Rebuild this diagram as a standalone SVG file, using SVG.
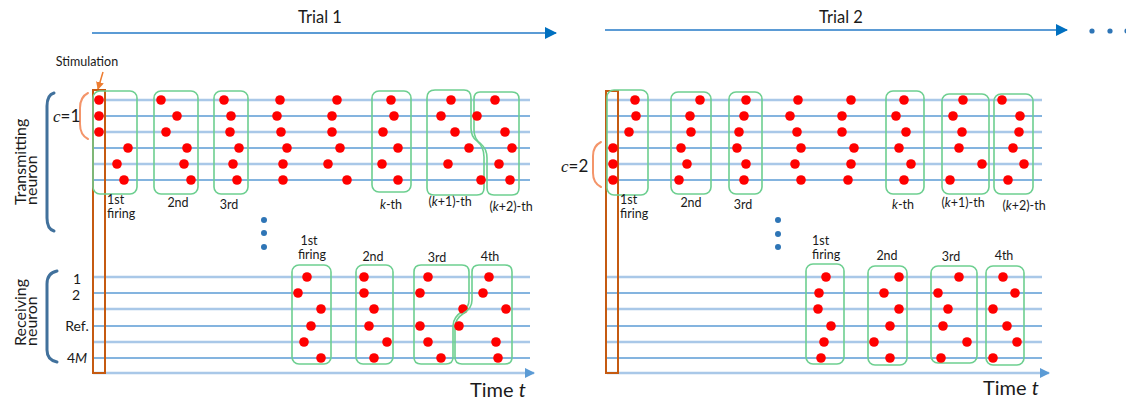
<svg xmlns="http://www.w3.org/2000/svg" width="1126" height="401" viewBox="0 0 1126 401">
  <defs>
    <style>
      text { font-family: Lato, "Liberation Sans", sans-serif; fill: #1a1a1a; }
      .lbl { font-size: 12.5px; }
      .mid { text-anchor: middle; }
      .it { font-style: italic; }
      .side { font-size: 16px; }
      .row { font-size: 14px; text-anchor: middle; }
      .trial { font-size: 16.5px; text-anchor: middle; }
      .time { font-size: 20px; }
      .lt { stroke: #a9c8e8; stroke-width: 2.4; fill: none; }
      .dk { stroke: #5b9bd5; stroke-width: 1.4; fill: none; }
      .box { fill: none; stroke: #6dcf90; stroke-width: 1.6; }
      .spk circle { fill: #ff0000; r: 4.8px; }
      .stim { fill: none; stroke: #c55a11; stroke-width: 2; }
      .br { fill: none; stroke: #41719c; stroke-width: 3; stroke-linecap: round; }
      .obr { fill: none; stroke: #f4956a; stroke-width: 2; stroke-linecap: round; }
      .ell { fill: #2e75b6; }
      .tl { stroke: #5b9bd5; stroke-width: 2; fill: none; }
    </style>
    <marker id="trialHead" markerWidth="12" markerHeight="12" refX="11" refY="6" orient="auto" markerUnits="userSpaceOnUse">
      <path d="M0,0 L12,6 L0,12 Z" fill="#0070c0"/>
    </marker>
    <marker id="axisHead" markerWidth="10" markerHeight="10" refX="9" refY="5" orient="auto" markerUnits="userSpaceOnUse">
      <path d="M0,0 L10,5 L0,10 Z" fill="#5b9bd5"/>
    </marker>
    <marker id="stimHead" markerWidth="8" markerHeight="8" refX="7" refY="4" orient="auto" markerUnits="userSpaceOnUse">
      <path d="M0,0 L8,4 L0,8 Z" fill="#ed7d31"/>
    </marker>
  </defs>

  <!-- trial arrows -->
  <g id="connectors">
    <line class="tl" x1="92" y1="33" x2="556" y2="33" marker-end="url(#trialHead)"/>
    <line class="tl" x1="605" y1="30" x2="1067" y2="30" marker-end="url(#trialHead)"/>
    <line x1="103" y1="72" x2="98" y2="89" stroke="#ed7d31" stroke-width="1.5" marker-end="url(#stimHead)"/>
  </g>
  <text class="trial" x="320" y="23">Trial 1</text>
  <text class="trial" x="841" y="23">Trial 2</text>
  <g id="more-trials" class="ell">
    <circle cx="1092" cy="31" r="2.6"/>
    <circle cx="1110" cy="31" r="2.6"/>
    <circle cx="1127" cy="31" r="2.6"/>
  </g>

  <!-- side labels -->
  <g id="side-labels">
    <text class="side" transform="translate(26,205) rotate(-90)">Transmitting</text>
    <text class="side" transform="translate(37,205) rotate(-90)">neuron</text>
    <text class="side" transform="translate(26,346) rotate(-90)">Receiving</text>
    <text class="side" transform="translate(37,346) rotate(-90)">neuron</text>
    <path class="br" d="M54,93 Q47,95 47,106 V218 Q47,229 54,231"/>
    <path class="br" d="M57,271 Q47,273 47,284 V350 Q47,360 57,362"/>
    <text class="row" x="77" y="284">1</text>
    <text class="row" x="76" y="300">2</text>
    <text class="row" x="77" y="331">Ref.</text>
    <text class="row" x="77" y="363">4<tspan class="it">M</tspan></text>
    <text x="87" y="66" class="lbl mid">Stimulation</text>
  </g>

  <!-- trial 1 -->
  <g id="trial1-lines">
    <line class="lt" x1="93" y1="100" x2="530" y2="100"/>
    <line class="dk" x1="93" y1="116" x2="530" y2="116"/>
    <line class="lt" x1="93" y1="132" x2="530" y2="132"/>
    <line class="dk" x1="93" y1="148" x2="530" y2="148"/>
    <line class="lt" x1="93" y1="164" x2="530" y2="164"/>
    <line class="dk" x1="93" y1="180" x2="530" y2="180"/>
    <line class="lt" x1="93" y1="277" x2="530" y2="277"/>
    <line class="dk" x1="93" y1="293" x2="530" y2="293"/>
    <line class="lt" x1="93" y1="309" x2="530" y2="309"/>
    <line class="dk" x1="93" y1="326" x2="530" y2="326"/>
    <line class="lt" x1="93" y1="342" x2="530" y2="342"/>
    <line class="dk" x1="93" y1="358" x2="530" y2="358"/>
    <line class="lt" x1="93" y1="373" x2="534" y2="373" marker-end="url(#axisHead)"/>
  </g>
  <rect id="trial1-stim" class="stim" x="93" y="90" width="12" height="283"/>
  <g id="trial1-c">
    <path class="obr" d="M88,93 Q80,97 80,108 V124 Q80,135 88,139"/>
    <text x="53" y="122" style="font-size:17px"><tspan class="it" font-family="'Liberation Serif', serif">c</tspan>=1</text>
  </g>

  <g id="t1-f1">
    <rect class="box" x="93" y="91" width="44" height="103" rx="7"/>
    <g class="spk"><circle cx="99" cy="100" r="4.8"/><circle cx="99" cy="116" r="4.8"/><circle cx="99" cy="132" r="4.8"/><circle cx="128" cy="148" r="4.8"/><circle cx="117" cy="164" r="4.8"/><circle cx="124" cy="180" r="4.8"/></g>
    <text class="lbl" x="107" y="204">1st</text>
    <text class="lbl" x="107" y="218">firing</text>
  </g>
  <g id="t1-f2">
    <rect class="box" x="154" y="91" width="44" height="103" rx="7"/>
    <g class="spk"><circle cx="161" cy="100" r="4.8"/><circle cx="177" cy="116" r="4.8"/><circle cx="166" cy="132" r="4.8"/><circle cx="187" cy="148" r="4.8"/><circle cx="184" cy="164" r="4.8"/><circle cx="191" cy="180" r="4.8"/></g>
    <text class="lbl mid" x="178" y="207">2nd</text>
  </g>
  <g id="t1-f3">
    <rect class="box" x="214" y="91" width="34" height="103" rx="7"/>
    <g class="spk"><circle cx="224" cy="100" r="4.8"/><circle cx="231" cy="116" r="4.8"/><circle cx="230" cy="132" r="4.8"/><circle cx="239" cy="148" r="4.8"/><circle cx="233" cy="164" r="4.8"/><circle cx="237" cy="180" r="4.8"/></g>
    <text class="lbl mid" x="229" y="209">3rd</text>
  </g>
  <g id="t1-f4" class="spk">
    <circle cx="280" cy="100" r="4.8"/><circle cx="277" cy="116" r="4.8"/><circle cx="281" cy="132" r="4.8"/><circle cx="287" cy="148" r="4.8"/><circle cx="283" cy="164" r="4.8"/><circle cx="283" cy="180" r="4.8"/>
  </g>
  <g id="t1-f5" class="spk">
    <circle cx="337" cy="100" r="4.8"/><circle cx="332" cy="116" r="4.8"/><circle cx="332" cy="132" r="4.8"/><circle cx="340" cy="148" r="4.8"/><circle cx="328" cy="164" r="4.8"/><circle cx="347" cy="180" r="4.8"/>
  </g>
  <g id="t1-fk">
    <rect class="box" x="372" y="91" width="39" height="101" rx="7"/>
    <g class="spk"><circle cx="391" cy="100" r="4.8"/><circle cx="394" cy="116" r="4.8"/><circle cx="383" cy="132" r="4.8"/><circle cx="398" cy="148" r="4.8"/><circle cx="382" cy="164" r="4.8"/><circle cx="398" cy="180" r="4.8"/></g>
    <text class="lbl mid" x="391" y="209"><tspan class="it">k</tspan>-th</text>
  </g>
  <g id="t1-fk1">
    <path class="box" d="M435,90 H464 Q471,90 471,98 V128 Q471,137 477,141 Q484,147 484,157 V188 Q484,195 477,195 H434 Q427,195 427,188 V98 Q427,90 435,90 Z"/>
    <g class="spk"><circle cx="451" cy="100" r="4.8"/><circle cx="441" cy="116" r="4.8"/><circle cx="455" cy="132" r="4.8"/><circle cx="469" cy="148" r="4.8"/><circle cx="448" cy="164" r="4.8"/><circle cx="481" cy="180" r="4.8"/></g>
    <text class="lbl mid" x="450" y="206">(<tspan class="it">k</tspan>+1)-th</text>
  </g>
  <g id="t1-fk2">
    <path class="box" d="M480,92 H512 Q519,92 519,99 V188 Q519,195 512,195 H494 Q487,195 487,188 V158 Q487,149 481,144 Q474,139 474,130 V99 Q474,92 480,92 Z"/>
    <g class="spk"><circle cx="495" cy="100" r="4.8"/><circle cx="477" cy="116" r="4.8"/><circle cx="505" cy="132" r="4.8"/><circle cx="512" cy="148" r="4.8"/><circle cx="499" cy="164" r="4.8"/><circle cx="510" cy="180" r="4.8"/></g>
    <text class="lbl mid" x="511" y="211">(<tspan class="it">k</tspan>+2)-th</text>
  </g>
  <g id="t1-gap" class="ell">
    <circle cx="264" cy="220" r="3"/><circle cx="264" cy="233" r="3"/><circle cx="264" cy="247" r="3"/>
  </g>

  <g id="t1-r1">
    <rect class="box" x="292" y="265" width="39" height="99" rx="7"/>
    <g class="spk"><circle cx="307" cy="277" r="4.8"/><circle cx="298" cy="293" r="4.8"/><circle cx="321" cy="309" r="4.8"/><circle cx="311" cy="326" r="4.8"/><circle cx="304" cy="342" r="4.8"/><circle cx="321" cy="358" r="4.8"/></g>
    <text class="lbl mid" x="309" y="245">1st</text>
    <text class="lbl mid" x="312" y="259">firing</text>
  </g>
  <g id="t1-r2">
    <rect class="box" x="356" y="265" width="37" height="99" rx="7"/>
    <g class="spk"><circle cx="364" cy="277" r="4.8"/><circle cx="364" cy="293" r="4.8"/><circle cx="374" cy="309" r="4.8"/><circle cx="369" cy="326" r="4.8"/><circle cx="387" cy="342" r="4.8"/><circle cx="374" cy="358" r="4.8"/></g>
    <text class="lbl mid" x="373" y="261">2nd</text>
  </g>
  <g id="t1-r3">
    <path class="box" d="M421,265 H462 Q469,265 469,272 V300 Q469,307 463,311 Q453,317 453,326 V357 Q453,364 446,364 H421 Q414,364 414,357 V272 Q414,265 421,265 Z"/>
    <g class="spk"><circle cx="428" cy="277" r="4.8"/><circle cx="420" cy="293" r="4.8"/><circle cx="463" cy="309" r="4.8"/><circle cx="420" cy="326" r="4.8"/><circle cx="428" cy="342" r="4.8"/><circle cx="441" cy="358" r="4.8"/></g>
    <text class="lbl mid" x="437" y="262">3rd</text>
  </g>
  <g id="t1-r4">
    <path class="box" d="M479,265 H505 Q512,265 512,272 V357 Q512,364 505,364 H462 Q455,364 455,357 V327 Q455,319 464,313 Q472,308 472,300 V272 Q472,265 479,265 Z"/>
    <g class="spk"><circle cx="489" cy="277" r="4.8"/><circle cx="483" cy="293" r="4.8"/><circle cx="506" cy="309" r="4.8"/><circle cx="459" cy="326" r="4.8"/><circle cx="496" cy="342" r="4.8"/><circle cx="498" cy="358" r="4.8"/></g>
    <text class="lbl mid" x="490" y="261">4th</text>
  </g>
  <text class="time" x="470" y="397">Time <tspan class="it">t</tspan></text>

  <!-- trial 2 -->
  <g id="trial2-lines">
    <line class="lt" x1="607" y1="100" x2="1042" y2="100"/>
    <line class="dk" x1="607" y1="116" x2="1042" y2="116"/>
    <line class="lt" x1="607" y1="132" x2="1042" y2="132"/>
    <line class="dk" x1="607" y1="148" x2="1042" y2="148"/>
    <line class="lt" x1="607" y1="164" x2="1042" y2="164"/>
    <line class="dk" x1="607" y1="180" x2="1042" y2="180"/>
    <line class="lt" x1="607" y1="277" x2="1042" y2="277"/>
    <line class="dk" x1="607" y1="293" x2="1042" y2="293"/>
    <line class="lt" x1="607" y1="309" x2="1042" y2="309"/>
    <line class="dk" x1="607" y1="326" x2="1042" y2="326"/>
    <line class="lt" x1="607" y1="342" x2="1042" y2="342"/>
    <line class="dk" x1="607" y1="358" x2="1042" y2="358"/>
    <line class="lt" x1="607" y1="373" x2="1049" y2="373" marker-end="url(#axisHead)"/>
  </g>
  <rect id="trial2-stim" class="stim" x="606" y="91" width="12" height="282"/>
  <g id="trial2-c">
    <path class="obr" d="M601,142 Q593,146 593,156 V173 Q593,183 601,187"/>
    <text x="561" y="172" style="font-size:17px"><tspan class="it" font-family="'Liberation Serif', serif">c</tspan>=2</text>
  </g>

  <g id="t2-f1">
    <rect class="box" x="607" y="90" width="41" height="105" rx="7"/>
    <g class="spk"><circle cx="635" cy="100" r="4.8"/><circle cx="636" cy="116" r="4.8"/><circle cx="629" cy="132" r="4.8"/><circle cx="613" cy="148" r="4.8"/><circle cx="613" cy="164" r="4.8"/><circle cx="613" cy="180" r="4.8"/></g>
    <text class="lbl" x="620" y="204">1st</text>
    <text class="lbl" x="620" y="218">firing</text>
  </g>
  <g id="t2-f2">
    <rect class="box" x="671" y="92" width="40" height="102" rx="7"/>
    <g class="spk"><circle cx="700" cy="100" r="4.8"/><circle cx="690" cy="116" r="4.8"/><circle cx="691" cy="132" r="4.8"/><circle cx="681" cy="148" r="4.8"/><circle cx="687" cy="164" r="4.8"/><circle cx="679" cy="180" r="4.8"/></g>
    <text class="lbl mid" x="691" y="207">2nd</text>
  </g>
  <g id="t2-f3">
    <rect class="box" x="729" y="92" width="33" height="102" rx="7"/>
    <g class="spk"><circle cx="746" cy="100" r="4.8"/><circle cx="744" cy="116" r="4.8"/><circle cx="739" cy="132" r="4.8"/><circle cx="737" cy="148" r="4.8"/><circle cx="746" cy="164" r="4.8"/><circle cx="744" cy="180" r="4.8"/></g>
    <text class="lbl mid" x="743" y="209">3rd</text>
  </g>
  <g id="t2-f4" class="spk">
    <circle cx="798" cy="100" r="4.8"/><circle cx="790" cy="116" r="4.8"/><circle cx="797" cy="132" r="4.8"/><circle cx="801" cy="148" r="4.8"/><circle cx="795" cy="164" r="4.8"/><circle cx="801" cy="180" r="4.8"/>
  </g>
  <g id="t2-f5" class="spk">
    <circle cx="851" cy="100" r="4.8"/><circle cx="842" cy="116" r="4.8"/><circle cx="842" cy="132" r="4.8"/><circle cx="854" cy="148" r="4.8"/><circle cx="851" cy="164" r="4.8"/><circle cx="848" cy="180" r="4.8"/>
  </g>
  <g id="t2-fk">
    <rect class="box" x="886" y="91" width="38" height="103" rx="7"/>
    <g class="spk"><circle cx="904" cy="100" r="4.8"/><circle cx="896" cy="116" r="4.8"/><circle cx="906" cy="132" r="4.8"/><circle cx="899" cy="148" r="4.8"/><circle cx="911" cy="164" r="4.8"/><circle cx="904" cy="180" r="4.8"/></g>
    <text class="lbl mid" x="903" y="209"><tspan class="it">k</tspan>-th</text>
  </g>
  <g id="t2-fk1">
    <rect class="box" x="942" y="94" width="47" height="100" rx="7"/>
    <g class="spk"><circle cx="963" cy="100" r="4.8"/><circle cx="953" cy="116" r="4.8"/><circle cx="962" cy="132" r="4.8"/><circle cx="959" cy="148" r="4.8"/><circle cx="982" cy="164" r="4.8"/><circle cx="950" cy="180" r="4.8"/></g>
    <text class="lbl mid" x="963" y="207">(<tspan class="it">k</tspan>+1)-th</text>
  </g>
  <g id="t2-fk2">
    <rect class="box" x="994" y="94" width="39" height="100" rx="7"/>
    <g class="spk"><circle cx="1002" cy="100" r="4.8"/><circle cx="1020" cy="116" r="4.8"/><circle cx="1019" cy="132" r="4.8"/><circle cx="1013" cy="148" r="4.8"/><circle cx="1024" cy="164" r="4.8"/><circle cx="1008" cy="180" r="4.8"/></g>
    <text class="lbl mid" x="1024" y="210">(<tspan class="it">k</tspan>+2)-th</text>
  </g>
  <g id="t2-gap" class="ell">
    <circle cx="778" cy="220" r="3"/><circle cx="778" cy="234" r="3"/><circle cx="778" cy="247" r="3"/>
  </g>

  <g id="t2-r1">
    <rect class="box" x="806" y="264" width="38" height="100" rx="7"/>
    <g class="spk"><circle cx="826" cy="277" r="4.8"/><circle cx="819" cy="293" r="4.8"/><circle cx="818" cy="309" r="4.8"/><circle cx="831" cy="326" r="4.8"/><circle cx="824" cy="342" r="4.8"/><circle cx="821" cy="358" r="4.8"/></g>
    <text class="lbl" x="812" y="245">1st</text>
    <text class="lbl" x="812" y="259">firing</text>
  </g>
  <g id="t2-r2">
    <rect class="box" x="868" y="266" width="39" height="99" rx="7"/>
    <g class="spk"><circle cx="899" cy="277" r="4.8"/><circle cx="884" cy="293" r="4.8"/><circle cx="899" cy="309" r="4.8"/><circle cx="890" cy="326" r="4.8"/><circle cx="874" cy="342" r="4.8"/><circle cx="890" cy="358" r="4.8"/></g>
    <text class="lbl mid" x="887" y="260">2nd</text>
  </g>
  <g id="t2-r3">
    <rect class="box" x="931" y="266" width="46" height="97" rx="7"/>
    <g class="spk"><circle cx="959" cy="277" r="4.8"/><circle cx="938" cy="293" r="4.8"/><circle cx="948" cy="309" r="4.8"/><circle cx="943" cy="326" r="4.8"/><circle cx="967" cy="342" r="4.8"/><circle cx="941" cy="358" r="4.8"/></g>
    <text class="lbl mid" x="951" y="261">3rd</text>
  </g>
  <g id="t2-r4">
    <rect class="box" x="986" y="266" width="38" height="99" rx="7"/>
    <g class="spk"><circle cx="1003" cy="277" r="4.8"/><circle cx="1015" cy="293" r="4.8"/><circle cx="993" cy="309" r="4.8"/><circle cx="1007" cy="326" r="4.8"/><circle cx="1017" cy="342" r="4.8"/><circle cx="993" cy="358" r="4.8"/></g>
    <text class="lbl mid" x="1004" y="260">4th</text>
  </g>
  <text class="time" x="983" y="395">Time <tspan class="it">t</tspan></text>
</svg>
